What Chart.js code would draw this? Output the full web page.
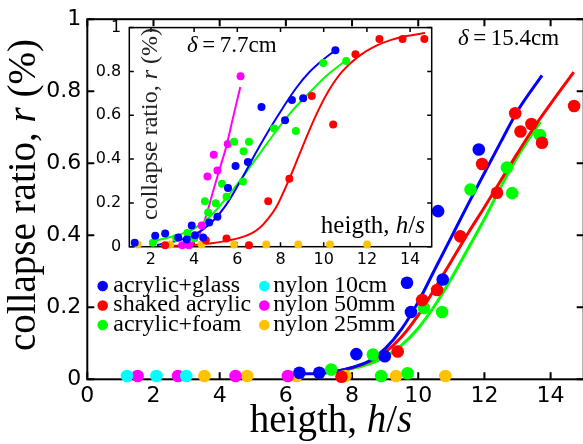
<!DOCTYPE html>
<html><head><meta charset="utf-8">
<script src="https://cdn.jsdelivr.net/npm/chart.js@4.4.1/dist/chart.umd.min.js"></script>
<style>
html,body{margin:0;padding:0;background:#fff;overflow:hidden;width:583px;height:444px}
#wrap{position:relative;width:583px;height:444px;overflow:hidden;background:#fff}
#main{position:absolute;left:0;top:0}
#inset{position:absolute;left:90px;top:10px}
</style></head>
<body><div id="wrap"><canvas id="main" width="590" height="444"></canvas><canvas id="inset" width="350" height="260"></canvas></div>
<script>
// ---------- main panel (delta = 15.4 cm) ----------
const mainXTicks = [0,2,4,6,8,10,12,14];
const mainYTicks = [0,0.2,0.4,0.6,0.8,1];
const mainYTickLabels = ['0','0.2','0.4','0.6','0.8','1'];

const glassX = [6.41,7.01,8.13,8.99,9.66,9.78,10.6,10.74,11.83];
const glassY = [0.018,0.018,0.07,0.064,0.268,0.187,0.467,0.277,0.638];
const shakedX = [7.68,9.38,10.12,10.57,11.27,11.93,12.38,12.93,13.09,13.42,13.74,14.71];
const shakedY = [0.007,0.077,0.22,0.248,0.397,0.598,0.518,0.739,0.688,0.709,0.657,0.759];
const foamX = [7.37,8.63,8.88,9.68,10.17,10.72,11.58,12.68,12.84,13.68];
const foamY = [0.027,0.069,0.009,0.017,0.198,0.187,0.527,0.588,0.517,0.678];
const nylon10X = [1.20,2.09,2.99];
const nylon10Y = [0.009,0.009,0.009];
const nylon50X = [1.52,2.74,4.48,6.06];
const nylon50Y = [0.009,0.009,0.009,0.009];
const nylon25X = [3.54,4.83,6.32,7.80,9.33,10.82];
const nylon25Y = [0.009,0.009,0.009,0.009,0.009,0.009];

const glassFitX = [6.4,7.0,7.5,8.0,8.5,9.0,9.5,10.0,10.5,11.0,11.5,12.0,12.5,13.0,13.74];
const glassFitY = [0.015,0.016,0.022,0.033,0.05,0.085,0.14,0.215,0.305,0.395,0.485,0.573,0.66,0.745,0.844];
const shakedFitX = [7.5,8.0,8.5,9.0,9.5,10.0,10.5,11.0,11.5,12.0,12.5,13.0,13.5,14.0,14.7];
const shakedFitY = [0.021,0.032,0.048,0.075,0.118,0.178,0.252,0.328,0.405,0.478,0.553,0.628,0.70,0.765,0.853];
const foamFitX = [7.4,8.0,8.5,9.0,9.5,10.0,10.5,11.0,11.5,12.0,12.5,13.0,13.69];
const foamFitY = [0.021,0.03,0.042,0.062,0.095,0.142,0.205,0.28,0.362,0.445,0.535,0.618,0.715];

// ---------- inset panel (delta = 7.7 cm) ----------
const insetXTicks = [2,4,6,8,10,12,14];
const insetYTicks = [0,0.2,0.4,0.6,0.8,1];
const insetYTickLabels = ['0','0.2','0.4','0.6','0.8','1'];

const inGlassX = [1.25,2.2,2.66,3.27,3.66,3.89,4.04,4.42,4.70,5.08,5.57,5.92,6.49,7.12,8.21,8.53,9.05,10.54];
const inGlassY = [0.018,0.05,0.06,0.042,0.033,0.097,0.052,0.042,0.11,0.137,0.268,0.368,0.387,0.638,0.577,0.67,0.677,0.897];
const inShakedX = [2.66,4.54,5.5,6.54,7.43,8.41,9.45,10.44,11.47,12.58,13.65,14.66];
const inShakedY = [0.007,0.03,0.037,0.007,0.208,0.31,0.688,0.558,0.878,0.948,0.948,0.948];
const inFoamX = [2.09,3.17,3.69,4.01,4.5,4.65,5.0,5.29,5.50,5.85,6.26,6.29,6.54,7.70,8.71,9.98,11.04];
const inFoamY = [0.018,0.04,0.063,0.039,0.208,0.156,0.198,0.287,0.228,0.479,0.298,0.436,0.479,0.539,0.528,0.839,0.848];
const inNylon50X = [3.45,3.76,4.35,4.62,4.91,5.08,5.56,6.15];
const inNylon50Y = [0.007,0.007,0.097,0.32,0.42,0.348,0.469,0.778];
const inNylon25X = [1.39,2.89,4.35,5.85,7.34,8.82,10.29,12.01];
const inNylon25Y = [0.01,0.01,0.01,0.01,0.01,0.01,0.01,0.01];

const inGlassFitX = [2.28,3.20,3.96,4.73,5.50,6.26,6.88,7.49,8.10,8.71,9.33,9.94,10.54];
const inGlassFitY = [0.007,0.027,0.052,0.104,0.193,0.32,0.432,0.536,0.632,0.722,0.796,0.851,0.897];
const inShakedFitX = [2.66,4.73,6.26,6.70,7.03,7.40,7.80,8.41,8.87,9.33,9.79,10.25,10.86,11.63,12.39,13.16,13.92,14.69];
const inShakedFitY = [0.003,0.015,0.045,0.063,0.085,0.125,0.18,0.31,0.42,0.53,0.63,0.715,0.80,0.87,0.915,0.945,0.963,0.975];
const inFoamFitX = [1.97,3.20,3.96,4.73,5.50,6.26,7.03,7.80,8.56,9.33,10.09,11.04];
const inFoamFitY = [0.022,0.052,0.08,0.137,0.223,0.32,0.424,0.528,0.622,0.702,0.777,0.851];
const inNylon50FitX = [3.58,3.96,4.27,4.58,4.88,5.19,5.50,5.80,6.14];
const inNylon50FitY = [0.007,0.022,0.06,0.149,0.253,0.357,0.461,0.588,0.729];

// ---------- helpers ----------
const C = {blue:'#0000ff', red:'#ff0000', green:'#00ff00', cyan:'#00ffff', magenta:'#ff00ff', gold:'#ffc200'};
const pts = (xs, ys) => xs.map((x, i) => ({x, y: ys[i]}));
const SERIF = '"Liberation Serif", "Times New Roman", serif';
const SANS = '"DejaVu Sans", sans-serif';

function scatterDS(label, xs, ys, color, r, legend){
  return {label, data: pts(xs, ys), backgroundColor: color, borderColor: color, borderWidth: 0,
    pointRadius: r, pointHoverRadius: r, showLine: false, clip: false, order: 1, legendItem: legend};
}
function lineDS(xs, ys, color, w){
  return {label: '', data: pts(xs, ys), borderColor: color, backgroundColor: color, borderWidth: w,
    pointRadius: 0, showLine: true, cubicInterpolationMode: 'monotone', fill: false, order: 2, clip: false};
}
function rich(ctx, segs, x, y, size, align){
  const fonts = segs.map(s => (s.i ? 'italic ' : '') + size + 'px ' + SERIF);
  const widths = segs.map((s, k) => { ctx.font = fonts[k]; return ctx.measureText(s.t).width; });
  const total = widths.reduce((a, b) => a + b, 0);
  let cx = align === 'center' ? x - total / 2 : align === 'right' ? x - total : x;
  ctx.textAlign = 'left'; ctx.textBaseline = 'alphabetic';
  segs.forEach((s, k) => { ctx.font = fonts[k]; ctx.fillText(s.t, cx, y); cx += widths[k]; });
}
const framePlugin = {
  id: 'frame',
  beforeDatasetsDraw(chart, args, o){
    const {ctx, chartArea: a, scales: {x, y}} = chart;
    ctx.save(); ctx.strokeStyle = '#000'; ctx.lineWidth = o.lw;
    ctx.strokeRect(a.left, a.top, a.right - a.left, a.bottom - a.top);
    ctx.beginPath();
    x.ticks.forEach(t => { const p = x.getPixelForValue(t.value);
      ctx.moveTo(p, a.bottom); ctx.lineTo(p, a.bottom - o.tl);
      ctx.moveTo(p, a.top); ctx.lineTo(p, a.top + o.tl); });
    y.ticks.forEach(t => { const p = y.getPixelForValue(t.value);
      ctx.moveTo(a.left, p); ctx.lineTo(a.left + o.tl, p);
      ctx.moveTo(a.right, p); ctx.lineTo(a.right - o.tl, p); });
    ctx.stroke(); ctx.restore();
  }
};
const textPlugin = {
  id: 'texts',
  afterDraw(chart, args, o){
    const ctx = chart.ctx; ctx.save(); ctx.fillStyle = '#000';
    (o.items || []).forEach(it => {
      ctx.save(); ctx.fillStyle = it.color || '#000';
      ctx.translate(it.x, it.y); if (it.rot) ctx.rotate(it.rot);
      rich(ctx, it.segs, 0, 0, it.size, it.align);
      ctx.restore();
    });
    if (o.legend){
      const L = o.legend;
      const items = chart.data.datasets.filter(d => d.legendItem);
      items.forEach((d, k) => {
        const col = Math.floor(k / 3), row = k % 3;
        const mx = L.markerX[col], ty = L.rowY[row];
        ctx.beginPath(); ctx.fillStyle = d.backgroundColor; ctx.arc(mx, ty, L.r, 0, Math.PI * 2); ctx.fill();
        ctx.fillStyle = '#000'; ctx.font = L.size + 'px ' + SERIF;
        ctx.textAlign = 'left'; ctx.textBaseline = 'alphabetic';
        ctx.fillText(d.label, L.textX[col], ty + L.dy);
      });
    }
    ctx.restore();
  }
};
function axes(xTicks, yTicks, yLabels, xMin, xMax, fontSize, yWidth, xHeight, xPad, yPad){
  return {
    x: {type: 'linear', min: xMin, max: xMax,
      afterBuildTicks: s => { s.ticks = xTicks.map(v => ({value: v})); },
      afterFit: s => { s.height = xHeight; },
      grid: {display: false, drawTicks: false}, border: {display: false},
      ticks: {color: '#000', font: {family: SANS, size: fontSize}, padding: xPad, maxRotation: 0, autoSkip: false,
        callback: v => String(v)}},
    y: {type: 'linear', min: 0, max: 1,
      afterBuildTicks: s => { s.ticks = yTicks.map(v => ({value: v})); },
      afterFit: s => { s.width = yWidth; },
      grid: {display: false, drawTicks: false}, border: {display: false},
      ticks: {color: '#000', font: {family: SANS, size: fontSize}, padding: yPad, autoSkip: false,
        callback: v => yLabels[yTicks.indexOf(v)]}}
  };
}

// ---------- main chart ----------
new Chart(document.getElementById('main'), {
  type: 'scatter',
  data: {datasets: [
    lineDS(glassFitX, glassFitY, C.blue, 3),
    lineDS(shakedFitX, shakedFitY, C.red, 3),
    lineDS(foamFitX, foamFitY, C.green, 3),
    scatterDS('acrylic+glass', glassX, glassY, C.blue, 6.3, true),
    scatterDS('shaked acrylic', shakedX, shakedY, C.red, 6.3, true),
    scatterDS('acrylic+foam', foamX, foamY, C.green, 6.3, true),
    scatterDS('nylon 10cm', nylon10X, nylon10Y, C.cyan, 6.3, true),
    scatterDS('nylon 50mm', nylon50X, nylon50Y, C.magenta, 6.3, true),
    scatterDS('nylon 25mm', nylon25X, nylon25Y, C.gold, 6.3, true)
  ]},
  options: {
    responsive: false, animation: false, events: [],
    layout: {padding: {left: 0, right: 6, top: 12.3, bottom: 0}},
    scales: axes(mainXTicks, mainYTicks, mainYTickLabels, 0, 15, 22, 87.3, 64.7, 4, 6),
    plugins: {
      legend: {display: false}, tooltip: {enabled: false},
      frame: {lw: 2, tl: 7},
      texts: {
        items: [
          {segs: [{t: 'heigth, '}, {t: 'h', i: true}, {t: '/'}, {t: 's', i: true}], x: 331, y: 432, size: 39, align: 'center'},
          {segs: [{t: 'collapse ratio, '}, {t: 'r', i: true}, {t: ' (%)'}], x: 35, y: 195, size: 39, align: 'center', rot: -Math.PI / 2},
          {segs: [{t: 'δ', i: true}, {t: '\u2009=\u200915.4cm'}], x: 458, y: 45, size: 23, align: 'left'}
        ],
        legend: {markerX: [102.7, 264.3], textX: [113.3, 273.3], rowY: [286, 305.5, 325], r: 5.3, size: 24, dy: 5.5}
      }
    }
  },
  plugins: [framePlugin, textPlugin]
});

// ---------- inset chart ----------
new Chart(document.getElementById('inset'), {
  type: 'scatter',
  data: {datasets: [
    lineDS(inGlassFitX, inGlassFitY, C.blue, 2),
    lineDS(inShakedFitX, inShakedFitY, C.red, 2),
    lineDS(inFoamFitX, inFoamFitY, C.green, 2),
    lineDS(inNylon50FitX, inNylon50FitY, C.magenta, 2),
    scatterDS('acrylic+glass', inGlassX, inGlassY, C.blue, 4, false),
    scatterDS('shaked acrylic', inShakedX, inShakedY, C.red, 4, false),
    scatterDS('acrylic+foam', inFoamX, inFoamY, C.green, 4, false),
    scatterDS('nylon 50mm', inNylon50X, inNylon50Y, C.magenta, 4, false),
    scatterDS('nylon 25mm', inNylon25X, inNylon25Y, C.gold, 4, false)
  ]},
  options: {
    responsive: false, animation: false, events: [],
    layout: {padding: {left: 0, right: 8.3, top: 12.7, bottom: 0}},
    scales: axes(insetXTicks, insetYTicks, insetYTickLabels, 1, 15, 16, 39.3, 23.3, 4, 8),
    plugins: {
      legend: {display: false}, tooltip: {enabled: false},
      frame: {lw: 1.5, tl: 4.5},
      texts: {
        items: [
          {segs: [{t: 'heigth, '}, {t: 'h', i: true}, {t: '/'}, {t: 's', i: true}], x: 335, y: 223, size: 25, align: 'right'},
          {segs: [{t: 'collapse ratio, '}, {t: 'r', i: true}, {t: ' (%)'}], x: 66.5, y: 114, size: 24, align: 'center', rot: -Math.PI / 2, color: '#222'},
          {segs: [{t: 'δ', i: true}, {t: '\u2009=\u20097.7cm'}], x: 97, y: 41.7, size: 23, align: 'left'}
        ]
      }
    }
  },
  plugins: [framePlugin, textPlugin]
});
</script>
</body></html>
